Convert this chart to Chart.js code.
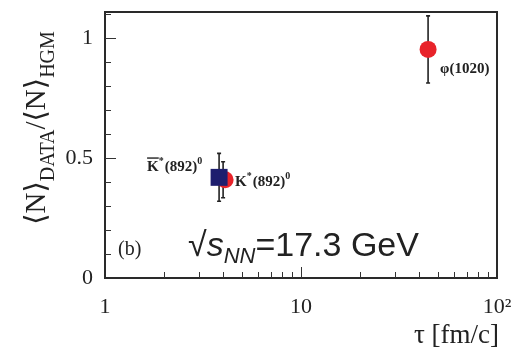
<!DOCTYPE html>
<html><head><meta charset="utf-8">
<script src="https://cdn.jsdelivr.net/npm/chart.js@4/dist/chart.umd.min.js"></script>
<style>html,body{margin:0;padding:0;background:#fff}#wrap{width:515px;height:353px}</style>
</head><body><div id="wrap"><canvas id="c" width="515" height="353"></canvas></div>
<script>
// ---- data ----
const particles = ['K̄*(892)0', 'K*(892)0', 'φ(1020)'];
const tauValues = [3.82, 4.1, 44.5];
const ratioValues = [0.42, 0.41, 0.954];
const ratioErrors = [0.10, 0.075, 0.14];
const xTickValues = [1, 10, 100];
const xTickLabels = ['1', '10', '10²'];
const yTickValues = [0, 0.5, 1];
const yTickLabels = ['0', '0.5', '1'];

const SERIF = '"Liberation Serif", "DejaVu Serif", serif';
const SANS = '"Liberation Sans", Arial, sans-serif';

const pt = i => [{x: tauValues[i], y: ratioValues[i]}];

const decor = {
  id: 'decor',
  beforeDatasetsDraw(chart) {
    const {ctx, scales: {x, y}} = chart;
    ctx.save();
    ctx.strokeStyle = '#222';
    ctx.lineWidth = 1.6;
    const offs = [0, -2, 0];
    for (let i = 0; i < tauValues.length; i++) {
      const px = x.getPixelForValue(tauValues[i]) + offs[i];
      const y1 = y.getPixelForValue(ratioValues[i] + ratioErrors[i]);
      const y2 = y.getPixelForValue(ratioValues[i] - ratioErrors[i]);
      ctx.beginPath(); ctx.moveTo(px, y1); ctx.lineTo(px, y2); ctx.stroke();
      ctx.beginPath(); ctx.moveTo(px - 2, y1); ctx.lineTo(px + 2, y1);
      ctx.moveTo(px - 2, y2); ctx.lineTo(px + 2, y2); ctx.stroke();
    }
    ctx.restore();
  },
  afterDraw(chart) {
    const {ctx, chartArea: a, scales: {x, y}} = chart;
    ctx.save();
    // frame
    ctx.strokeStyle = '#2a2a2a';
    ctx.lineWidth = 2;
    ctx.strokeRect(a.left, a.top, a.right - a.left, a.bottom - a.top);
    // inward ticks
    ctx.lineWidth = 1;
    ctx.strokeStyle = '#333';
    for (let v = 0.1; v < 1.105; v += 0.1) {
      const vv = Math.round(v * 10) / 10;
      const py = Math.round(y.getPixelForValue(vv)) + 0.5;
      const major = Math.abs(vv - 0.5) < 1e-6 || Math.abs(vv - 1) < 1e-6;
      ctx.beginPath(); ctx.moveTo(a.left, py); ctx.lineTo(a.left + (major ? 11 : 6), py); ctx.stroke();
    }
    for (let d = 1; d <= 10; d *= 10) {
      for (let m = 2; m <= 10; m++) {
        const v = d * m;
        if (v >= 100) continue;
        const px = Math.round(x.getPixelForValue(v)) + 0.5;
        const major = v === 10;
        ctx.beginPath(); ctx.moveTo(px, a.bottom); ctx.lineTo(px, a.bottom - (major ? 11 : 6)); ctx.stroke();
      }
    }
    // point labels
    ctx.fillStyle = '#222';
    ctx.textBaseline = 'alphabetic';
    ctx.textAlign = 'left';
    const big = 'bold 15px ' + SERIF, small = 'bold 10px ' + SERIF;
    function kLabel(x0, yb, bar) {
      ctx.font = big;
      let cx = x0;
      ctx.fillText('K', cx, yb);
      const wK = ctx.measureText('K').width;
      if (bar) { ctx.fillRect(cx, yb - 14, wK, 1.4); }
      cx += wK;
      ctx.font = small; ctx.fillText('*', cx, yb - 7); cx += ctx.measureText('*').width + 1;
      ctx.font = big; ctx.fillText('(892)', cx, yb); cx += ctx.measureText('(892)').width;
      ctx.font = small; ctx.fillText('0', cx, yb - 7);
    }
    const xa = x.getPixelForValue(tauValues[0]), ya = y.getPixelForValue(ratioValues[0]);
    kLabel(xa - 72, ya - 6, true);
    const xb = x.getPixelForValue(tauValues[1]), yb = y.getPixelForValue(ratioValues[1]);
    kLabel(xb + 10, yb + 6, false);
    const xc = x.getPixelForValue(tauValues[2]), yc = y.getPixelForValue(ratioValues[2]);
    ctx.font = 'bold 15px ' + SERIF;
    ctx.fillText(particles[2], xc + 12, yc + 24);
    // (b)
    ctx.font = '20px ' + SERIF;
    ctx.fillText('(b)', a.left + 13, 255);
    // sqrt s_NN
    ctx.font = '34px ' + SANS;
    let sx = 188, sy = 256;
    ctx.fillText('√', sx, sy); sx += ctx.measureText('√').width;
    ctx.font = 'italic 34px ' + SANS; ctx.fillText('s', sx, sy); sx += ctx.measureText('s').width;
    ctx.font = 'italic 22px ' + SANS; ctx.fillText('NN', sx, sy + 7); sx += ctx.measureText('NN').width;
    ctx.font = '34px ' + SANS; ctx.fillText('=17.3 GeV', sx, sy);
    // x title
    ctx.font = '27px ' + SERIF;
    ctx.textAlign = 'right';
    ctx.fillText('τ [fm/c]', 499, 343);
    // y title (rotated)
    ctx.translate(45, 128);
    ctx.rotate(-Math.PI / 2);
    const parts = [['⟨N⟩', 29, 0], ['DATA', 20, 9], ['/⟨N⟩', 29, 0], ['HGM', 20, 9]];
    let total = 0;
    parts.forEach(p => { ctx.font = p[1] + 'px ' + SERIF; total += ctx.measureText(p[0]).width; });
    let tx = -total / 2;
    ctx.textAlign = 'left';
    parts.forEach(p => { ctx.font = p[1] + 'px ' + SERIF; ctx.fillText(p[0], tx, p[2]); tx += ctx.measureText(p[0]).width; });
    ctx.restore();
  }
};

new Chart(document.getElementById('c'), {
  type: 'scatter',
  data: {
    datasets: [
      { label: particles[0], data: pt(0), pointStyle: 'rect', pointRadius: 12, pointHoverRadius: 12,
        backgroundColor: '#1e1e6e', borderColor: '#1e1e6e', borderWidth: 0 },
      { label: particles[1], data: pt(1), pointStyle: 'circle', pointRadius: 8.5, pointHoverRadius: 8.5,
        backgroundColor: '#e8232a', borderColor: '#e8232a', borderWidth: 0 },
      { label: particles[2], data: pt(2), pointStyle: 'circle', pointRadius: 8.5, pointHoverRadius: 8.5,
        backgroundColor: '#e8232a', borderColor: '#e8232a', borderWidth: 0 }
    ]
  },
  options: {
    responsive: false, animation: false, devicePixelRatio: 1,
    layout: { padding: { left: 0, top: 12, right: 18, bottom: 0 } },
    plugins: { legend: { display: false }, tooltip: { enabled: false } },
    scales: {
      x: {
        type: 'logarithmic', min: 1, max: 100,
        grid: { display: false, drawTicks: false }, border: { display: false },
        afterBuildTicks: s => { s.ticks = xTickValues.map(v => ({ value: v })); },
        afterFit: s => { s.height = 75; s.paddingLeft = 0; s.paddingRight = 0; },
        ticks: { padding: 16, color: '#222', font: { family: SERIF, size: 22 }, maxRotation: 0, autoSkip: false,
          callback: (v) => { const i = xTickValues.indexOf(v); return i >= 0 ? xTickLabels[i] : ''; } }
      },
      y: {
        min: 0, max: 1.11,
        grid: { display: false, drawTicks: false }, border: { display: false },
        afterBuildTicks: s => { s.ticks = yTickValues.map(v => ({ value: v })); },
        afterFit: s => { s.width = 105; s.paddingTop = 0; s.paddingBottom = 0; },
        ticks: { padding: 12, color: '#222', font: { family: SERIF, size: 22 },
          callback: (v) => { const i = yTickValues.indexOf(v); return i >= 0 ? yTickLabels[i] : ''; } }
      }
    }
  },
  plugins: [decor]
});
</script></body></html>
